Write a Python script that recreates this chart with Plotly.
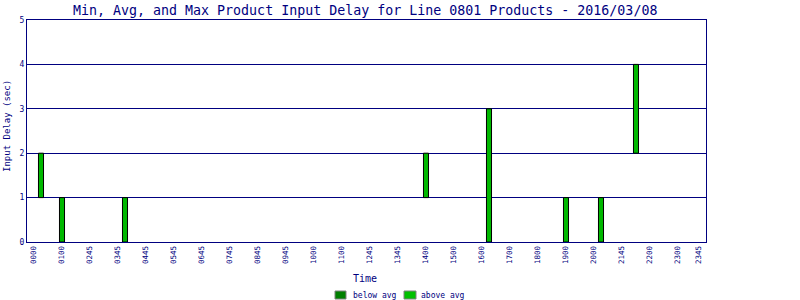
import plotly.graph_objects as go

NAVY = "#000080"
FONT = "DejaVu Sans Mono"

title_text = "Min, Avg, and Max Product Input Delay for Line 0801 Products - 2016/03/08"
tick_labels = ["0000", "0100", "0245", "0345", "0445", "0545", "0645", "0745", "0845",
               "0945", "1000", "1100", "1245", "1345", "1400", "1500", "1600", "1700",
               "1800", "1900", "2000", "2145", "2200", "2300", "2345"]
tick_index = [0, 4, 8, 12, 16, 20, 24, 28, 32, 36, 40, 44, 48, 52, 56, 60, 64, 68,
              72, 76, 80, 84, 88, 92, 95]

bar_index = [1, 4, 13, 56, 65, 76, 81, 86]
min_delay = [1, 0, 0, 1, 0, 0, 0, 2]
max_delay = [2, 1, 1, 2, 3, 1, 1, 4]
legend_names = ["below avg", "above avg"]
legend_colors = ["#008000", "#00C000"]

fig = go.Figure()
fig.add_trace(go.Bar(
    x=bar_index,
    y=[mx - mn for mn, mx in zip(min_delay, max_delay)],
    base=min_delay,
    width=0.72,
    marker=dict(color="#00B800", line=dict(color="black", width=1)),
    showlegend=False,
))

L, R, T, B = 27, 94, 20, 58
W, H = 800 - L - R, 300 - T - B


def px(x):
    return (x - L) / W


def py(y):
    return (300 - B - y) / H


shapes = []
annotations = []
legend_boxes = [(335, 346, 351), (404, 416, 419)]
for (bx0, bx1, tx), name, col in zip(legend_boxes, legend_names, legend_colors):
    shapes.append(dict(type="rect", xref="paper", yref="paper",
                       x0=px(bx0), x1=px(bx1), y0=py(299), y1=py(291),
                       fillcolor=col, line=dict(color="#808080", width=1)))
    annotations.append(dict(text=name, xref="paper", yref="paper", x=px(tx), y=py(295),
                            xanchor="left", yanchor="middle", showarrow=False,
                            font=dict(family=FONT, size=8, color=NAVY)))

annotations.append(dict(text=title_text, xref="paper", yref="paper", x=px(365), y=py(10),
                        xanchor="center", yanchor="middle", showarrow=False,
                        font=dict(family=FONT, size=13.3, color=NAVY)))
annotations.append(dict(text="Time", xref="paper", yref="paper", x=px(365), y=py(278),
                        xanchor="center", yanchor="middle", showarrow=False,
                        font=dict(family=FONT, size=10, color=NAVY)))
annotations.append(dict(text="Input Delay (sec)", xref="paper", yref="paper", x=px(7), y=py(126),
                        xanchor="center", yanchor="middle", showarrow=False, textangle=-90,
                        font=dict(family=FONT, size=9, color=NAVY)))

fig.update_layout(
    width=800, height=300,
    margin=dict(l=L, r=R, t=T, b=B, pad=0),
    paper_bgcolor="white", plot_bgcolor="white",
    shapes=shapes, annotations=annotations,
    showlegend=False,
    xaxis=dict(range=[-1, 96], tickmode="array", tickvals=tick_index, ticktext=tick_labels,
               tickangle=-90, tickfont=dict(family=FONT, size=7.5, color=NAVY),
               showgrid=False, zeroline=False, showline=True, mirror=True,
               linecolor=NAVY, linewidth=1, ticks="", fixedrange=True),
    yaxis=dict(range=[0, 5], tickmode="array", tickvals=[0, 1, 2, 3, 4, 5],
               tickfont=dict(family=FONT, size=8, color=NAVY),
               showgrid=True, gridcolor=NAVY, gridwidth=1, zeroline=False,
               showline=True, mirror=True, linecolor=NAVY, linewidth=1, ticks=""),
)

fig.write_html("out.html")
